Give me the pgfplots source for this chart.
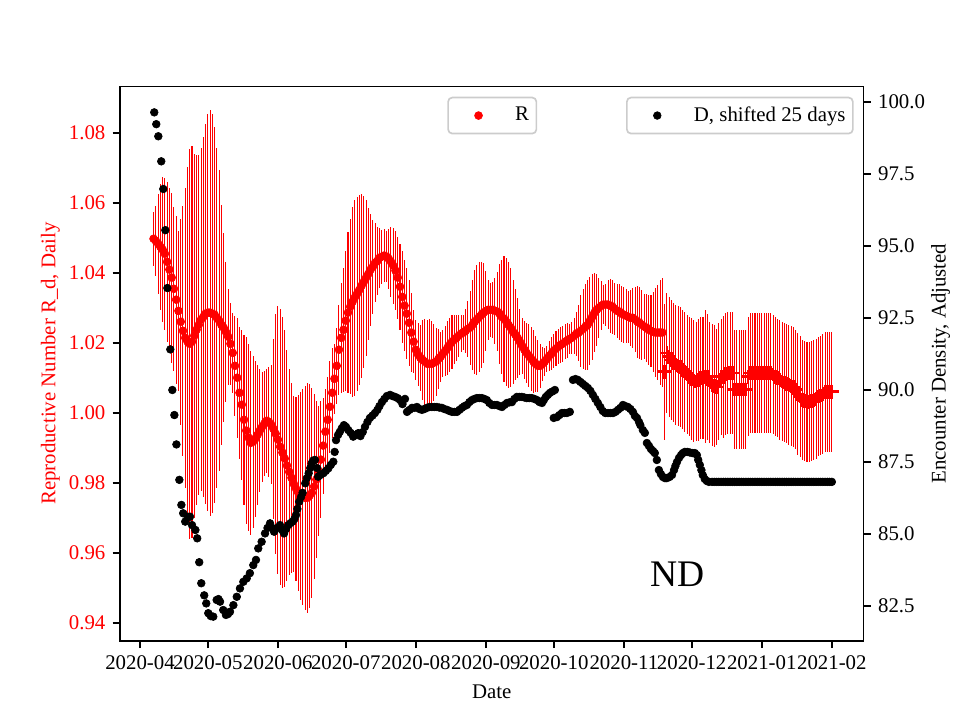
\documentclass[border=0pt]{standalone}
\usepackage{fontspec}
\setmainfont{Liberation Serif}
\usepackage{pgfplots}
\usepackage{pgfplotstable}
\pgfplotsset{compat=1.18}

\pgfplotstableread{
d r e
6 1.0497 .0077
7 1.0491 .0100
8 1.0483 .0143
9 1.0474 .0180
10 1.0466 .0206
11 1.0454 .0217
12 1.0431 .0229
13 1.0409 .0234
14 1.0386 .0243
15 1.0354 .0234
16 1.0323 .0240
17 1.0291 .0229
18 1.0260 .0294
19 1.0234 .0357
20 1.0214 .0429
21 1.0203 .0500
22 1.0197 .0557
23 1.0203 .0560
24 1.0220 .0520
25 1.0237 .0500
26 1.0251 .0486
27 1.0266 .0491
28 1.0274 .0514
29 1.0283 .0543
30 1.0286 .0566
31 1.0286 .0580
32 1.0283 .0571
33 1.0280 .0537
34 1.0271 .0486
35 1.0263 .0429
36 1.0251 .0343
37 1.0243 .0271
38 1.0231 .0200
39 1.0217 .0137
40 1.0197 .0117
41 1.0171 .0114
42 1.0134 .0143
43 1.0100 .0171
44 1.0057 .0189
45 1.0023 .0214
46 0.9980 .0243
47 0.9949 .0266
48 0.9929 .0266
49 0.9914 .0263
50 0.9917 .0246
51 0.9926 .0223
52 0.9937 .0200
53 0.9949 .0177
54 0.9960 .0157
55 0.9969 .0151
56 0.9977 .0149
57 0.9974 .0157
58 0.9966 .0169
59 0.9954 .0257
60 0.9940 .0343
61 0.9923 .0383
62 0.9903 .0394
63 0.9886 .0386
64 0.9869 .0366
65 0.9849 .0329
66 0.9831 .0294
67 0.9814 .0271
68 0.9797 .0251
69 0.9783 .0263
70 0.9771 .0280
71 0.9763 .0297
72 0.9760 .0309
73 0.9757 .0320
74 0.9757 .0329
75 0.9763 .0320
76 0.9771 .0300
77 0.9789 .0263
78 0.9809 .0223
79 0.9834 .0186
80 0.9866 .0166
81 0.9906 .0137
82 0.9946 .0123
83 0.9980 .0123
84 1.0017 .0131
85 1.0057 .0129
86 1.0097 .0100
87 1.0134 .0109
88 1.0180 .0129
89 1.0214 .0157
90 1.0237 .0177
91 1.0263 .0200
92 1.0286 .0229
93 1.0303 .0251
94 1.0317 .0271
95 1.0329 .0280
96 1.0340 .0277
97 1.0351 .0271
98 1.0363 .0263
99 1.0374 .0246
100 1.0386 .0223
101 1.0397 .0189
102 1.0409 .0160
103 1.0417 .0134
104 1.0429 .0114
105 1.0434 .0097
106 1.0443 .0086
107 1.0446 .0077
108 1.0449 .0077
109 1.0446 .0074
110 1.0440 .0086
111 1.0431 .0100
112 1.0420 .0109
113 1.0406 .0114
114 1.0386 .0117
115 1.0360 .0123
116 1.0331 .0131
117 1.0306 .0131
118 1.0283 .0129
119 1.0257 .0123
120 1.0229 .0114
121 1.0203 .0091
122 1.0180 .0086
123 1.0166 .0089
124 1.0157 .0094
125 1.0151 .0114
126 1.0146 .0123
127 1.0140 .0126
128 1.0140 .0129
129 1.0140 .0123
130 1.0143 .0109
131 1.0146 .0097
132 1.0154 .0086
133 1.0160 .0071
134 1.0169 .0066
135 1.0177 .0071
136 1.0186 .0077
137 1.0194 .0077
138 1.0203 .0077
139 1.0209 .0071
140 1.0214 .0066
141 1.0220 .0060
142 1.0226 .0054
143 1.0229 .0049
144 1.0234 .0063
145 1.0240 .0080
146 1.0243 .0106
147 1.0251 .0129
148 1.0260 .0149
149 1.0266 .0157
150 1.0274 .0157
151 1.0280 .0151
152 1.0286 .0143
153 1.0291 .0114
154 1.0294 .0086
155 1.0294 .0077
156 1.0294 .0080
157 1.0291 .0094
158 1.0289 .0114
159 1.0283 .0143
160 1.0274 .0163
161 1.0269 .0180
162 1.0260 .0183
163 1.0251 .0180
164 1.0243 .0171
165 1.0231 .0149
166 1.0223 .0129
167 1.0214 .0114
168 1.0203 .0094
169 1.0191 .0080
170 1.0180 .0083
171 1.0171 .0086
172 1.0163 .0091
173 1.0154 .0091
174 1.0146 .0089
175 1.0140 .0080
176 1.0134 .0074
177 1.0134 .0063
178 1.0140 .0049
179 1.0146 .0040
180 1.0154 .0037
181 1.0163 .0043
182 1.0169 .0046
183 1.0177 .0049
184 1.0183 .0051
185 1.0189 .0051
186 1.0194 .0051
187 1.0197 .0051
188 1.0203 .0051
189 1.0206 .0049
190 1.0211 .0043
191 1.0214 .0046
192 1.0220 .0051
193 1.0226 .0063
194 1.0229 .0080
195 1.0234 .0103
196 1.0240 .0114
197 1.0246 .0123
198 1.0251 .0129
199 1.0263 .0126
200 1.0274 .0123
201 1.0286 .0114
202 1.0294 .0103
203 1.0300 .0086
204 1.0306 .0071
205 1.0309 .0057
206 1.0309 .0060
207 1.0309 .0069
208 1.0306 .0077
209 1.0303 .0077
210 1.0297 .0074
211 1.0291 .0077
212 1.0289 .0080
213 1.0283 .0080
214 1.0280 .0080
215 1.0277 .0077
216 1.0274 .0074
217 1.0271 .0080
218 1.0271 .0086
219 1.0266 .0094
220 1.0260 .0103
221 1.0257 .0103
222 1.0251 .0100
223 1.0246 .0094
224 1.0243 .0097
225 1.0237 .0100
226 1.0234 .0103
227 1.0231 .0114
228 1.0229 .0126
229 1.0229 .0137
230 1.0229 .0149
231 1.0229 .0157
}\Rdot

\pgfplotstableread{
d r e
232 1.0117 .0194
233 1.0171 .0171
234 1.0160 .0171
235 1.0151 .0171
236 1.0143 .0171
237 1.0137 .0171
238 1.0134 .0171
239 1.0131 .0171
240 1.0123 .0171
241 1.0117 .0171
242 1.0109 .0171
243 1.0103 .0171
244 1.0097 .0174
245 1.0091 .0174
246 1.0089 .0171
247 1.0094 .0174
248 1.0100 .0174
249 1.0100 .0174
250 1.0103 .0189
251 1.0103 .0180
252 1.0086 .0174
253 1.0080 .0174
254 1.0077 .0174
255 1.0074 .0166
256 1.0089 .0166
257 1.0103 .0166
258 1.0103 .0174
259 1.0111 .0174
260 1.0114 .0174
261 1.0114 .0174
262 1.0114 .0174
263 1.0066 .0171
264 1.0066 .0171
265 1.0066 .0171
266 1.0066 .0171
267 1.0066 .0171
268 1.0066 .0171
269 1.0103 .0171
270 1.0114 .0171
271 1.0114 .0171
272 1.0114 .0171
273 1.0114 .0171
274 1.0114 .0171
275 1.0114 .0171
276 1.0114 .0171
277 1.0114 .0171
278 1.0114 .0171
279 1.0114 .0171
280 1.0109 .0171
281 1.0103 .0171
282 1.0100 .0169
283 1.0094 .0171
284 1.0089 .0171
285 1.0086 .0171
286 1.0083 .0171
287 1.0080 .0171
288 1.0077 .0171
289 1.0074 .0171
290 1.0066 .0171
291 1.0054 .0174
292 1.0046 .0174
293 1.0037 .0171
294 1.0034 .0171
295 1.0031 .0171
296 1.0031 .0171
297 1.0034 .0171
298 1.0037 .0171
299 1.0040 .0171
300 1.0046 .0171
301 1.0049 .0171
302 1.0054 .0171
303 1.0060 .0171
304 1.0060 .0171
305 1.0060 .0171
306 1.0060 .0171
}\Rplus

\pgfplotstableread{
d v
6.3 99.64
7.2 99.23
8.1 98.81
9.4 97.94
10.3 96.98
11.2 95.55
12.1 93.54
13.4 91.41
14.3 90.00
15.2 89.13
16.1 88.11
17.4 86.88
18.3 86.01
19.1 85.72
20.0 85.43
21.1 85.60
22.1 85.60
23.0 85.31
24.5 85.14
25.3 84.85
26.2 84.02
27.1 83.29
28.4 82.87
29.3 82.59
30.2 82.25
31.3 82.15
32.4 82.13
33.9 82.71
34.7 82.74
35.4 82.65
36.8 82.36
38.0 82.19
38.9 82.22
39.8 82.30
41.3 82.53
42.8 82.82
44.2 83.11
45.7 83.34
47.2 83.46
48.6 83.64
50.1 83.92
51.3 84.10
52.3 84.50
53.8 84.73
55.3 85.02
56.4 85.21
57.5 85.37
58.4 85.21
59.3 85.08
60.6 85.21
61.9 85.31
62.8 85.14
63.7 85.02
64.6 85.17
65.6 85.31
66.6 85.38
67.5 85.43
68.3 85.52
69.0 85.66
69.6 85.87
70.4 86.12
71.2 86.28
71.9 86.43
73.1 86.76
73.8 86.94
74.6 87.11
75.3 87.29
75.9 87.45
76.6 87.55
77.4 87.57
78.3 87.29
78.8 86.99
79.8 87.05
81.1 87.11
82.2 87.19
83.3 87.28
84.4 87.40
85.5 87.51
86.1 87.85
86.7 88.26
87.6 88.44
88.4 88.55
89.3 88.68
90.2 88.78
91.1 88.72
92.1 88.61
93.2 88.51
94.3 88.38
95.4 88.44
96.5 88.50
97.5 88.40
98.5 88.54
99.5 88.72
100.6 88.89
101.7 89.03
102.8 89.11
103.9 89.20
105.0 89.31
105.9 89.44
107.0 89.58
108.1 89.69
109.2 89.79
110.6 89.83
111.7 89.79
112.8 89.76
113.9 89.72
115.0 89.65
116.1 89.51
117.2 89.69
118.1 89.24
119.2 89.31
120.3 89.38
121.4 89.38
122.5 89.41
123.6 89.34
124.7 89.31
125.8 89.34
126.9 89.38
128.0 89.41
129.1 89.41
130.2 89.41
131.3 89.41
132.4 89.39
133.5 89.38
134.6 89.34
135.8 89.31
136.9 89.27
138.0 89.24
139.1 89.24
140.2 89.24
141.3 89.31
142.4 89.38
143.5 89.44
144.6 89.48
145.7 89.58
146.8 89.65
147.9 89.69
149.0 89.72
150.1 89.72
151.2 89.72
152.3 89.69
153.4 89.65
154.5 89.55
155.7 89.48
156.8 89.48
157.9 89.48
159.0 89.44
160.1 89.41
161.2 89.48
162.3 89.55
163.4 89.57
164.5 89.58
165.6 89.69
166.7 89.76
167.8 89.76
168.9 89.76
170.0 89.74
171.1 89.72
172.2 89.72
173.3 89.72
174.4 89.69
175.6 89.65
176.7 89.58
177.8 89.55
178.6 89.65
179.5 89.76
180.4 89.83
181.3 89.90
182.4 89.95
183.5 90.00
183.0 89.03
184.4 89.06
185.5 89.13
186.6 89.20
187.7 89.20
188.8 89.20
190.1 89.24
191.5 90.35
192.6 90.38
193.7 90.35
194.8 90.28
195.9 90.21
197.0 90.14
198.1 90.07
199.2 89.97
200.3 89.83
201.4 89.69
202.5 89.55
203.6 89.41
204.7 89.27
205.8 89.20
207.0 89.20
208.1 89.20
209.2 89.20
210.3 89.24
211.4 89.31
212.5 89.38
213.6 89.48
214.7 89.44
215.8 89.41
216.9 89.34
218.0 89.24
218.9 89.10
219.8 89.03
220.7 88.89
221.3 88.78
222.4 88.61
223.3 88.51
224.2 88.16
225.1 88.06
226.0 87.95
226.9 87.88
227.7 87.81
228.6 87.57
229.5 87.22
230.4 87.08
231.3 86.98
232.2 86.94
233.0 86.94
234.2 86.98
235.3 87.05
236.2 87.22
236.8 87.36
237.5 87.50
238.4 87.64
239.3 87.74
240.1 87.81
241.0 87.85
242.1 87.85
243.2 87.83
244.3 87.81
245.4 87.81
246.3 87.74
246.9 87.57
247.6 87.40
248.3 87.22
248.9 87.05
249.8 86.91
250.7 86.84
251.6 86.81
253 86.81
254 86.81
255 86.81
256 86.81
257 86.81
258 86.81
259 86.81
260 86.81
261 86.81
262 86.81
263 86.81
264 86.81
265 86.81
266 86.81
267 86.81
268 86.81
269 86.81
270 86.81
271 86.81
272 86.81
273 86.81
274 86.81
275 86.81
276 86.81
277 86.81
278 86.81
279 86.81
280 86.81
281 86.81
282 86.81
283 86.81
284 86.81
285 86.81
286 86.81
287 86.81
288 86.81
289 86.81
290 86.81
291 86.81
292 86.81
293 86.81
294 86.81
295 86.81
296 86.81
297 86.81
298 86.81
299 86.81
300 86.81
301 86.81
302 86.81
303 86.81
304 86.81
305 86.81
306 86.81
}\Dtab

\pgfplotsset{
  common/.style={
    scale only axis, width=356.88pt, height=266.11pt,
    at={(57.6pt,38.02pt)}, anchor=south west,
    xmin=-8.85, xmax=320.0,
    font=\fontsize{10}{12}\selectfont,
    tick align=outside, major tick length=3.5pt,
    tick style={black, line width=0.8pt},
    axis line style={line width=0.8pt},
    legend cell align=left,
    legend style={draw=black!20, line width=0.8pt, rounded corners=2pt, fill=white,
      inner sep=0pt, nodes={inner sep=0pt}, font=\fontsize{10}{12}\selectfont},
    legend image code/.code={\path[draw=none,fill=none] (-14.6pt,-8.65pt) rectangle (17.6pt,8.65pt);
      \draw[##1, rounded corners=0pt] plot coordinates {(0pt,0pt)};},
  }
}

\begin{document}
\begin{tikzpicture}
\path[use as bounding box] (0,0) rectangle (460.8pt,345.6pt);
\begin{axis}[common,
  ymin=0.93483, ymax=1.09323,
  xtick={0,30,61,91,122,153,183,214,244,275,306},
  xticklabels={2020-04,2020-05,2020-06,2020-07,2020-08,2020-09,2020-10,2020-11,2020-12,2021-01,2021-02},
  xtick pos=bottom, ytick pos=left,
  ytick={0.94,0.96,0.98,1.00,1.02,1.04,1.06,1.08},
  yticklabels={0.94,0.96,0.98,1.00,1.02,1.04,1.06,1.08},
  yticklabel style={red},
  xlabel={Date}, ylabel={Reproductive Number R\_d, Daily},
  xlabel style={at={(axis description cs:0.5,-0.1032)}, anchor=base},
  ylabel style={at={(axis description cs:-0.0868,0.5)}, anchor=base, red},
  legend style={at={(0.4402,0.9814)}, anchor=north west},
]
\addplot[only marks, mark=*, mark size=1.9pt, color=red,
  mark options={draw=red, fill=red, line width=0.3pt},
  error bars/.cd, y dir=both, y explicit, error mark=none,
  error bar style={red, line width=0.5pt}]
  table[x=d, y=r, y error=e] {\Rdot};
\addlegendentry{R\hspace*{3.5pt}}
\addplot[forget plot, only marks, mark=+, mark size=3.3pt, color=red,
  mark options={line width=1.2pt},
  error bars/.cd, y dir=both, y explicit, error mark=none,
  error bar style={red, line width=0.5pt}]
  table[x=d, y=r, y error=e] {\Rplus};
\node[anchor=base west, inner sep=0pt, font=\fontsize{18}{20}\selectfont]
  at (rel axis cs:0.7125,0.0976) {ND};
\end{axis}
\begin{axis}[common,
  ymin=81.292, ymax=100.542,
  axis y line*=right, axis x line=none,
  ytick={82.5,85,87.5,90,92.5,95,97.5,100},
  yticklabels={82.5,85.0,87.5,90.0,92.5,95.0,97.5,100.0},
  ylabel={Encounter Density, Adjusted},
  ylabel style={at={(axis description cs:1.1103,0.5)}, anchor=base},
  legend style={at={(0.6806,0.9814)}, anchor=north west},
]
\addplot[only marks, mark=*, mark size=1.85pt, color=black,
  mark options={draw=black, fill=black, line width=0.3pt}]
  table[x=d, y=v] {\Dtab};
\addlegendentry{D, shifted 25 days\hspace*{3.5pt}}
\end{axis}
\end{tikzpicture}
\end{document}
